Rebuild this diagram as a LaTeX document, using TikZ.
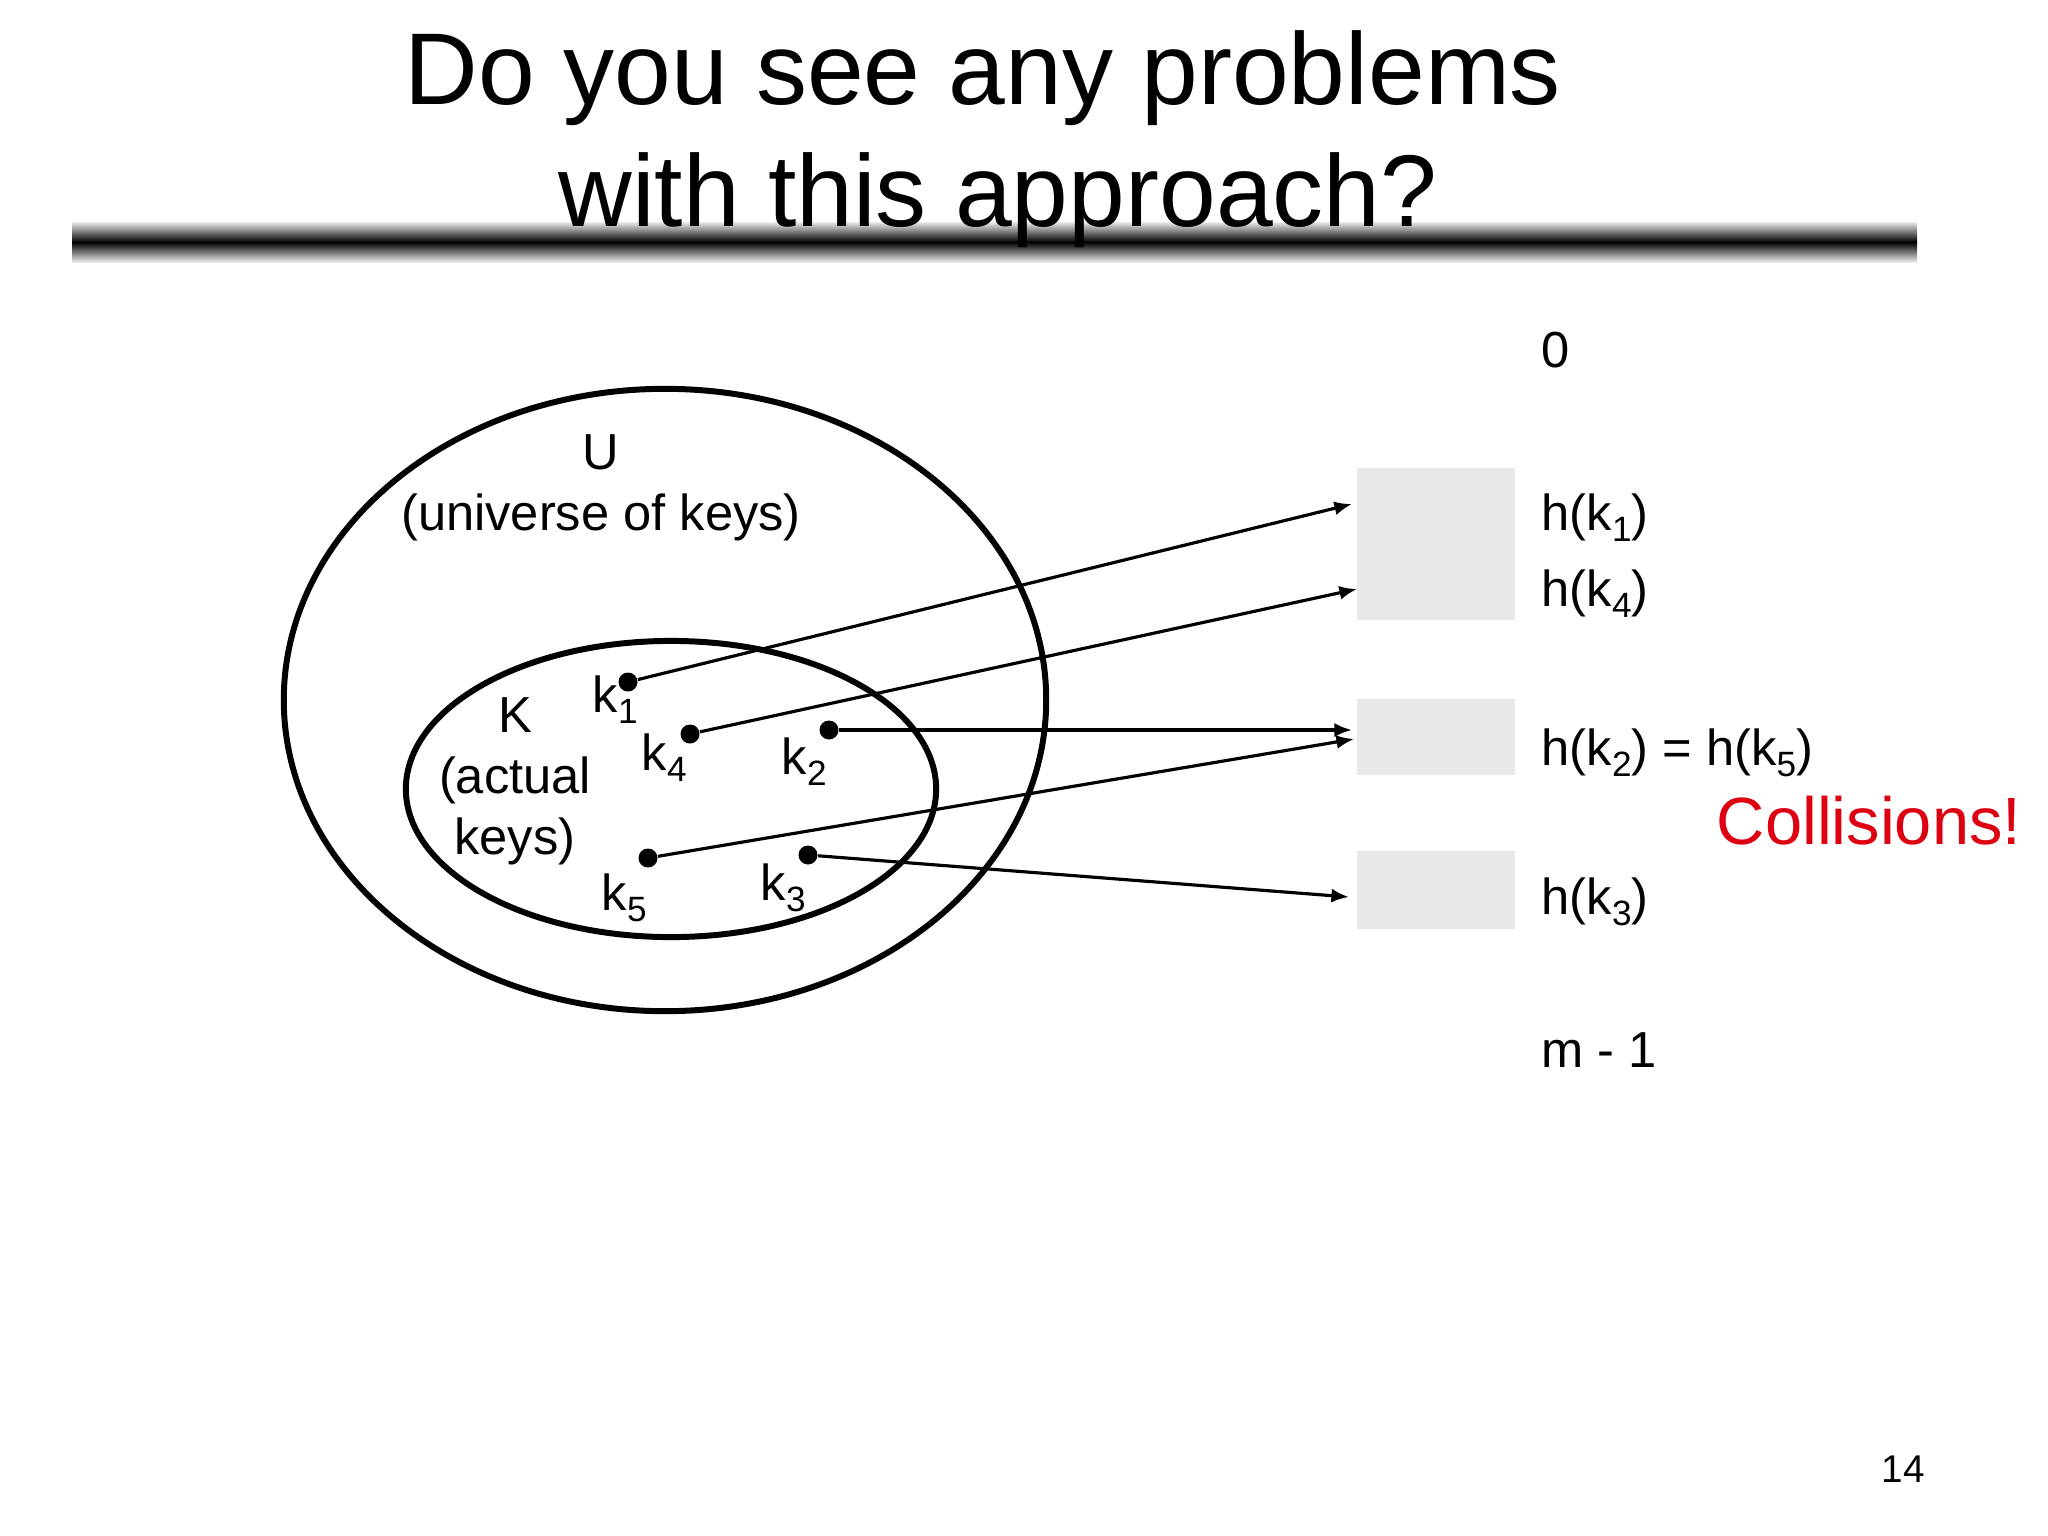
\documentclass[tikz,border=0pt]{standalone}
\usepackage{fontspec}
\setmainfont{Liberation Sans}
\usetikzlibrary{arrows.meta, positioning}
\definecolor{slotgray}{RGB}{232,232,232}
\definecolor{alertred}{RGB}{221,0,17}
\newcommand{\ksub}[1]{\raisebox{-0.22em}{\fontsize{10}{12}\selectfont #1}}
\tikzset{
  >=Latex,
  set/.style={line width=1.7pt},
  keydot/.style={circle,fill=black,inner sep=0,minimum size=0.19cm},
  txt/.style={font=\fontsize{14.4}{17.3}\selectfont,inner sep=0,align=center},
  slot/.style={fill=slotgray,draw=none,minimum width=1.57cm,inner sep=0},
  hash arrow/.style={-{Latex[length=5pt,width=4pt]},line width=0.9pt}
}

\begin{document}
\begin{tikzpicture}[x=0.01cm, y=-0.01cm]
  \useasboundingbox (0,0) rectangle (2048,1536);

  % Title bar
  \shade[top color=black!8, bottom color=black] (72,222) rectangle (1917,242);
  \shade[top color=black, bottom color=black!8] (72,242) rectangle (1917,262);
  \node[anchor=base, inner sep=0, font=\fontsize{29}{35}\selectfont] (title) at (983,104) {Do you see any problems};
  \node[anchor=base, inner sep=0, font=\fontsize{29}{35}\selectfont] (title2) at (998,226) {with this approach?};

  % Sets
  \draw[set] (665,700) ellipse [x radius=3.81cm, y radius=3.11cm];
  \draw[set] (671,789) ellipse [x radius=2.65cm, y radius=1.48cm];
  \node[txt] (univ) at (601,488) {U\\(universe of keys)};
  \node[txt] (actual) at (515,781) {K\\(actual\\keys)};

  % Keys
  \node[keydot] (k1) at (628,682) {};
  \node[keydot] (k4) at (690,734) {};
  \node[keydot] (k2) at (829,730) {};
  \node[keydot] (k5) at (648,858) {};
  \node[keydot] (k3) at (808,855) {};
  \node[txt, anchor=base west] (k1l) at (592,712) {k\ksub{1}};
  \node[txt, anchor=base west] (k4l) at (641,770) {k\ksub{4}};
  \node[txt, anchor=base west] (k2l) at (781,774) {k\ksub{2}};
  \node[txt, anchor=base west] (k5l) at (601,910) {k\ksub{5}};
  \node[txt, anchor=base west] (k3l) at (760,900) {k\ksub{3}};

  % Table slots
  \node[slot, minimum height=1.52cm] (slot1) at (1436,544) {};
  \node[slot, minimum height=0.76cm] (slot2) at (1436,737) {};
  \node[slot, minimum height=0.77cm] (slot3) at (1436,890) {};
  \coordinate (in1) at (1352,504);
  \coordinate (in4) at (1357,589);
  \coordinate (in2) at (1352,730);
  \coordinate (in5) at (1354,739);
  \coordinate (in3) at (1349,897);

  % Hash arrows
  \draw[hash arrow] (k1) -- (in1);
  \draw[hash arrow] (k4) -- (in4);
  \draw[hash arrow] (k2) -- (in2);
  \draw[hash arrow] (k5) -- (in5);
  \draw[hash arrow] (k3) -- (in3);

  % Slot labels
  \node[txt, anchor=base west] (h0) at (1541,367) {0};
  \node[txt, anchor=base west] (h1) at (1541,530) {h(k\ksub{1})};
  \node[txt, anchor=base west] (h4) at (1541,606) {h(k\ksub{4})};
  \node[txt, anchor=base west] (h2) at (1541,765) {h(k\ksub{2}) = h(k\ksub{5})};
  \node[txt, anchor=base west] (h3) at (1541,914) {h(k\ksub{3})};
  \node[txt, anchor=base west] (hm) at (1541,1067) {m - 1};
  \node[txt, anchor=base east, text=alertred, font=\fontsize{19}{23}\selectfont] (coll) at (2022,844) {Collisions!};

  % Page number
  \node[inner sep=0, font=\fontsize{11}{13}\selectfont] (page) at (1903,1469) {14};
\end{tikzpicture}
\end{document}
